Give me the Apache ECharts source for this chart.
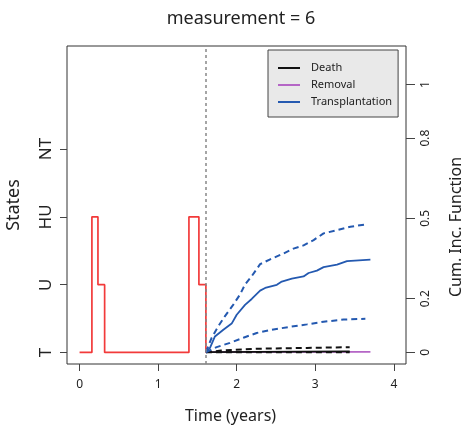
<!DOCTYPE html>
<html>
<head>
<meta charset="utf-8">
<script src="https://cdn.jsdelivr.net/npm/echarts@6/dist/echarts.min.js"></script>
<style>
  html, body { margin: 0; padding: 0; background: #fff; }
  #chart { width: 467px; height: 430px; }
</style>
</head>
<body>
<div id="chart"></div>
<script>
// 状态轨迹 (阶梯)
const stateNames = ["T", "U", "HU", "NT"];
const stateLevels = [1, 2, 3, 4];
const stateTimes = [0, 0.157, 0.234, 0.319, 1.392, 1.519, 1.608];
const stateValues = [1, 3, 2, 1, 3, 2, 1];
// 预测起点
const cutTime = 1.608;

// 累积发生函数
const transTime = [1.608, 1.66, 1.723, 1.83, 1.936, 2.0, 2.106, 2.191, 2.298, 2.362, 2.511, 2.574, 2.702, 2.851, 2.915, 3.021, 3.106, 3.277, 3.404, 3.702];
const transEst = [0, 0.016, 0.059, 0.084, 0.107, 0.14, 0.177, 0.199, 0.23, 0.24, 0.252, 0.264, 0.275, 0.283, 0.296, 0.305, 0.318, 0.327, 0.34, 0.346];
const transUpTime = [1.608, 1.681, 1.766, 1.851, 1.957, 2.043, 2.106, 2.191, 2.298, 2.426, 2.596, 2.723, 2.851, 2.979, 3.106, 3.277, 3.447, 3.638];
const transUp = [0, 0.054, 0.097, 0.135, 0.178, 0.216, 0.253, 0.284, 0.329, 0.347, 0.369, 0.387, 0.399, 0.419, 0.444, 0.456, 0.469, 0.477];
const transLowTime = [1.608, 1.745, 1.915, 2.085, 2.255, 2.468, 2.681, 2.894, 3.106, 3.362, 3.638];
const transLow = [0, 0.019, 0.035, 0.054, 0.072, 0.085, 0.095, 0.104, 0.114, 0.122, 0.125];

const deathTime = [1.608, 3.438];
const deathEst = [0, 0.003];
const deathUpTime = [1.608, 1.8, 2.255, 2.894, 3.438];
const deathUp = [0, 0.006, 0.013, 0.016, 0.019];
const deathLow = [0, 0];

const removalTime = [1.608, 3.702];
const removalEst = [0, 0.001];

// 右轴刻度
const cifTicks = [0, 0.2, 0.5, 0.8, 1];
const cifTickLabels = ["0", "0.2", "0.5", "0.8", "1"];
const timeTicks = [0, 1, 2, 3, 4];

const FONT = "Noto Sans";
const BLUE = "#2459b0";
const PURPLE = "#b566c6";
const BLACK = "#111";
const RED = "#f23a3a";

const zip = (xs, ys) => xs.map((x, i) => [x, ys[i]]);

const myChart = echarts.init(document.getElementById("chart"));

const cifLine = (name, xs, ys, color, dashed) => ({
  name: name,
  type: "line",
  yAxisIndex: 1,
  data: zip(xs, ys),
  showSymbol: false,
  symbol: "none",
  silent: true,
  lineStyle: {
    color: color,
    width: dashed ? 2 : 1.8,
    type: dashed ? [6, 4] : "solid",
  },
  itemStyle: { color: color },
  z: 3,
});

myChart.setOption({
  animation: false,
  title: {
    text: "measurement = 6",
    left: 236,
    textAlign: "center",
    top: 5,
    textStyle: { fontFamily: FONT, fontSize: 18, fontWeight: "normal", color: "#222" },
  },
  legend: {
    data: ["Death", "Removal", "Transplantation"],
    orient: "vertical",
    left: 268,
    top: 50,
    padding: [11, 6, 8, 10],
    itemGap: 3,
    itemWidth: 22,
    itemHeight: 2,
    icon: "rect",
    backgroundColor: "#e9e9e9",
    borderColor: "#444",
    borderWidth: 1,
    borderRadius: 0,
    textStyle: { fontFamily: FONT, fontSize: 11, color: "#222", lineHeight: 14, padding: [0, 0, 0, 6] },
    selectedMode: false,
  },
  grid: {
    left: 67,
    right: 61,
    top: 46,
    bottom: 66,
    show: true,
    borderColor: "#333",
    borderWidth: 1,
    backgroundColor: "#fff",
    outerBoundsMode: "none",
  },
  xAxis: {
    type: "value",
    min: -0.16,
    max: 4.155,
    name: "Time (years)",
    nameLocation: "middle",
    nameGap: 44,
    nameTextStyle: { fontFamily: FONT, fontSize: 16, color: "#222", padding: [0, 12, 0, 0] },
    axisLine: { show: false, onZero: false },
    axisTick: { show: true, inside: false, length: 7, customValues: timeTicks, lineStyle: { color: "#444" } },
    axisLabel: { customValues: timeTicks, margin: 15, fontFamily: FONT, fontSize: 12, color: "#222" },
    splitLine: { show: false },
  },
  yAxis: [
    {
      type: "value",
      min: 0.83,
      max: 5.52,
      position: "left",
      name: "States",
      nameLocation: "middle",
      nameRotate: 90,
      nameGap: 44,
      nameTextStyle: { fontFamily: FONT, fontSize: 18, color: "#222" },
      axisLine: { show: false, onZero: false },
      axisTick: { show: true, length: 7, customValues: stateLevels, lineStyle: { color: "#444" } },
      axisLabel: {
        customValues: stateLevels,
        rotate: 90,
        margin: 12,
        fontFamily: FONT,
        fontSize: 17,
        color: "#222",
        formatter: (v) => stateNames[stateLevels.indexOf(v)],
      },
      splitLine: { show: false },
    },
    {
      type: "value",
      min: -0.044,
      max: 1.144,
      position: "right",
      name: "Cum. Inc. Function",
      nameLocation: "middle",
      nameRotate: 90,
      nameGap: 42,
      nameTextStyle: { fontFamily: FONT, fontSize: 16, color: "#222", padding: [0, 44, 0, 0] },
      axisLine: { show: false, onZero: false },
      axisTick: { show: true, length: 9, customValues: cifTicks, lineStyle: { color: "#444" } },
      axisLabel: {
        customValues: cifTicks,
        rotate: 90,
        margin: 14,
        fontFamily: FONT,
        fontSize: 12,
        color: "#222",
        formatter: (v) => cifTickLabels[cifTicks.indexOf(v)],
      },
      splitLine: { show: false },
    },
  ],
  series: [
    {
      name: "state",
      type: "line",
      yAxisIndex: 0,
      step: "end",
      data: zip(stateTimes, stateValues),
      showSymbol: false,
      symbol: "none",
      silent: true,
      lineStyle: { color: RED, width: 1.7 },
      z: 2,
      markLine: {
        silent: true,
        symbol: "none",
        label: { show: false },
        lineStyle: { color: "#888", width: 1.5, type: [3, 3] },
        data: [{ xAxis: cutTime }],
        z: 5,
      },
    },
    cifLine("Removal", removalTime, removalEst, PURPLE, false),
    cifLine("Death", deathTime, deathEst, BLACK, false),
    cifLine("death_up", deathUpTime, deathUp, BLACK, true),
    cifLine("death_low", deathTime, deathLow, BLACK, true),
    cifLine("Transplantation", transTime, transEst, BLUE, false),
    cifLine("trans_up", transUpTime, transUp, BLUE, true),
    cifLine("trans_low", transLowTime, transLow, BLUE, true),
  ],
});
</script>
</body>
</html>
